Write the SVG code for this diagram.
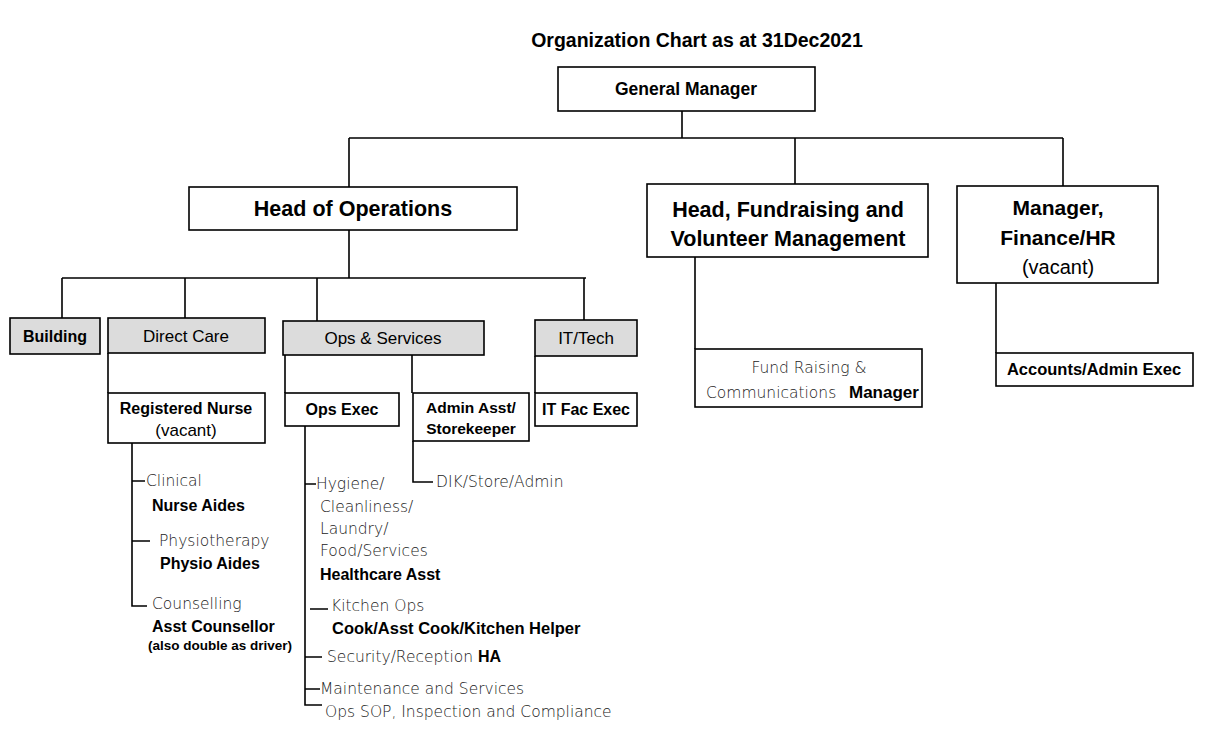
<svg xmlns="http://www.w3.org/2000/svg" width="1230" height="743" viewBox="0 0 1230 743">
<style>
.bx{fill:#fff;stroke:#000;stroke-width:1.6}
.gb{fill:#dcdcdc;stroke:#000;stroke-width:1.6}
.ln{stroke:#000;stroke-width:1.6;fill:none}
.b{font-family:"Liberation Sans",Arial,sans-serif;font-weight:bold;fill:#000}
.r{font-family:"Liberation Sans",Arial,sans-serif;fill:#000}
.g{font-family:"DejaVu Sans",sans-serif;font-weight:200;fill:#222;font-size:15.5px}
.m{text-anchor:middle}
</style>
<rect width="1230" height="743" fill="#fff"/>
<text class="b m" x="697" y="47" font-size="19.5">Organization Chart as at 31Dec2021</text>

<g id="connectors">
<path class="ln" d="M682 111V138M349 138H1063M349 138V187M795 138V184M1063 138V186"/>
<path class="ln" d="M349 230V278M62 278H586M62 278V318M185 278V318M317 278V321M584 278V320"/>
<path class="ln" d="M695 257V349M996 283V353"/>
<path class="ln" d="M108 353V393M285 355V393M412 355V393M535 356V393"/>
<path class="ln" d="M132 443V606H147M132 481H145M132 541H150"/>
<path class="ln" d="M305 426V705H322M305 484H316M310 609H328M305 657H322M305 689H320"/>
<path class="ln" d="M413 441V482H433"/>
</g>

<g id="gm"><rect class="bx" x="558" y="67" width="257" height="44"/><text class="b m" x="686" y="95" font-size="17.5">General Manager</text></g>
<g id="hoo"><rect class="bx" x="189" y="187" width="328" height="43"/><text class="b m" x="353" y="216" font-size="21.5">Head of Operations</text></g>
<g id="hfv"><rect class="bx" x="647" y="184" width="281" height="73"/><text class="b m" x="788" y="217" font-size="21.5">Head, Fundraising and</text><text class="b m" x="788" y="246" font-size="21.5">Volunteer Management</text></g>
<g id="mfh"><rect class="bx" x="957" y="186" width="201" height="97"/><text class="b m" x="1058" y="215" font-size="21">Manager,</text><text class="b m" x="1058" y="245" font-size="21">Finance/HR</text><text class="r m" x="1058" y="274" font-size="20">(vacant)</text></g>

<g id="building"><rect class="gb" x="10" y="318" width="90" height="36"/><text class="b m" x="55" y="342" font-size="16">Building</text></g>
<g id="directcare"><rect class="gb" x="108" y="318" width="157" height="35"/><text class="r m" x="186" y="342" font-size="17">Direct Care</text></g>
<g id="opsservices"><rect class="gb" x="283" y="321" width="201" height="34"/><text class="r m" x="383" y="344" font-size="17">Ops &amp; Services</text></g>
<g id="ittech"><rect class="gb" x="535" y="320" width="102" height="36"/><text class="r m" x="586" y="344" font-size="17">IT/Tech</text></g>

<g id="rn"><rect class="bx" x="108" y="393" width="157" height="50"/><text class="b m" x="186" y="414" font-size="16">Registered Nurse</text><text class="r m" x="186" y="436" font-size="17">(vacant)</text></g>
<g id="opsexec"><rect class="bx" x="285" y="393" width="114" height="33"/><text class="b m" x="342" y="415" font-size="16">Ops Exec</text></g>
<g id="adminasst"><rect class="bx" x="413" y="393" width="116" height="48"/><text class="b m" x="471" y="413" font-size="15.5">Admin Asst/</text><text class="b m" x="471" y="434" font-size="15.5">Storekeeper</text></g>
<g id="itfac"><rect class="bx" x="535" y="393" width="102" height="33"/><text class="b m" x="586" y="415" font-size="16">IT Fac Exec</text></g>
<g id="fundraising"><rect class="bx" x="695" y="349" width="227" height="58"/><text class="g m" x="809" y="373" font-size="15">Fund Raising &amp;</text><text class="g" x="706" y="398" font-size="15">Communications</text><text class="b" x="849" y="398" font-size="17">Manager</text></g>
<g id="accounts"><rect class="bx" x="996" y="353" width="197" height="33"/><text class="b m" x="1094" y="375" font-size="16.5">Accounts/Admin Exec</text></g>

<g id="rn-sub">
<text class="g" x="146" y="486">Clinical</text>
<text class="b" x="152" y="511" font-size="16">Nurse Aides</text>
<text class="g" x="159" y="546">Physiotherapy</text>
<text class="b" x="160" y="569" font-size="16">Physio Aides</text>
<text class="g" x="152" y="609">Counselling</text>
<text class="b" x="152" y="632" font-size="16">Asst Counsellor</text>
<text class="b" x="148" y="650" font-size="13.5">(also double as driver)</text>
</g>
<g id="ops-sub">
<text class="g" x="316" y="489">Hygiene/</text>
<text class="g" x="320" y="512">Cleanliness/</text>
<text class="g" x="320" y="534">Laundry/</text>
<text class="g" x="320" y="556">Food/Services</text>
<text class="b" x="320" y="580" font-size="16">Healthcare Asst</text>
<text class="g" x="331" y="611">Kitchen Ops</text>
<text class="b" x="332" y="634" font-size="16.5">Cook/Asst Cook/Kitchen Helper</text>
<text class="g" x="327" y="662">Security/Reception <tspan font-family="Liberation Sans,Arial,sans-serif" font-weight="bold" font-size="16" fill="#000">HA</tspan></text>
<text class="g" x="320" y="694">Maintenance and Services</text>
<text class="g" x="325" y="717">Ops SOP, Inspection and Compliance</text>
</g>
<g id="admin-sub"><text class="g" x="436" y="487">DIK/Store/Admin</text></g>
</svg>
